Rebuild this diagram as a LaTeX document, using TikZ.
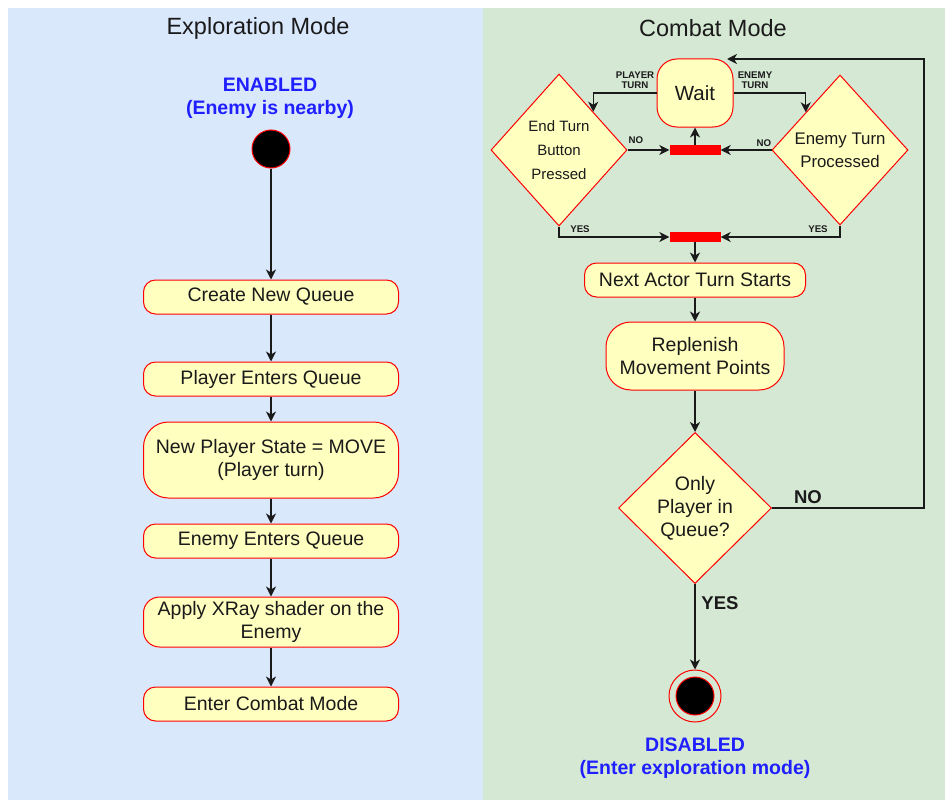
\documentclass[tikz,border=0pt]{standalone}
\usepackage{fontspec}
\setmainfont{Liberation Sans}
\usetikzlibrary{shapes.geometric,arrows.meta,calc}
\definecolor{bluebg}{HTML}{DAE8FC}
\definecolor{greenbg}{HTML}{D5E8D4}
\definecolor{nodefill}{HTML}{FFFFC0}
\definecolor{nodeline}{HTML}{FF0000}
\definecolor{labblue}{HTML}{1F1FFF}
\definecolor{ink}{HTML}{1A1A1A}
\begin{document}
\begin{tikzpicture}[x=1pt,y=-1pt,
  act/.style={draw=nodeline, fill=nodefill, line width=1pt, rounded corners=12pt, align=center, inner sep=0pt, font=\fontsize{19.5}{23}\selectfont, text=ink},
  dec/.style={diamond, draw=nodeline, fill=nodefill, line width=1pt, align=center, inner sep=0pt, text=ink},
  barbox/.style={rectangle, fill=red, draw=none, minimum width=51pt, minimum height=10pt, inner sep=0pt},
  arr/.style={-{Stealth[length=10pt,width=10pt,inset=3pt]}, line width=1.3pt, draw=ink},
  lab/.style={font=\bfseries\fontsize{9.7}{10.5}\selectfont, align=center, inner sep=0pt, text=ink},
  biglab/.style={font=\bfseries\fontsize{18.5}{20}\selectfont, inner sep=0pt, text=ink},
  modelab/.style={font=\bfseries\fontsize{19.5}{23}\selectfont, align=center, inner sep=0pt, text=labblue},
  title/.style={font=\fontsize{23.5}{26}\selectfont, inner sep=0pt, text=ink}
]
\useasboundingbox (0,0) rectangle (945,800);
\fill[white] (0,0) rectangle (945,800);
\fill[bluebg] (8,8) rectangle (483,800);
\fill[greenbg] (483,8) rectangle (945,800);

% titles
\node[title] (t1) at (258,28) {Exploration Mode};
\node[title] (t2) at (713,28) {Combat Mode};

% exploration
\node[modelab] (en) at (270,98) {ENABLED\\(Enemy is nearby)};
\node[circle, fill=black, draw=nodeline, line width=1pt, minimum size=38pt, inner sep=0pt] (start) at (271,149) {};
\node[act, minimum width=255pt, minimum height=34pt] (q1) at (271,297) {Create New Queue};
\node[act, minimum width=255pt, minimum height=34pt] (q2) at (271,379) {Player Enters Queue};
\node[act, minimum width=255pt, minimum height=76pt, rounded corners=25pt] (q3) at (271,460) {New Player State = MOVE\\(Player turn)};
\node[act, minimum width=255pt, minimum height=34pt] (q4) at (271,541) {Enemy Enters Queue};
\node[act, minimum width=255pt, minimum height=50pt, rounded corners=16pt] (q5) at (271,622) {Apply XRay shader on the\\Enemy};
\node[act, minimum width=255pt, minimum height=34pt] (q6) at (271,704) {Enter Combat Mode};

\draw[arr] (start) -- (q1);
\draw[arr] (q1) -- (q2);
\draw[arr] (q2) -- (q3);
\draw[arr] (q3) -- (q4);
\draw[arr] (q4) -- (q5);
\draw[arr] (q5) -- (q6);

% combat
\node[act, minimum width=76pt, minimum height=68pt, rounded corners=20pt, font=\fontsize{20.5}{22}\selectfont] (wait) at (695,93) {Wait};
\node[dec, minimum width=136pt, minimum height=152pt, font=\fontsize{15}{24}\selectfont] (endt) at (559,150) {End Turn\\Button\\Pressed};
\node[dec, minimum width=136pt, minimum height=150pt, font=\fontsize{16.8}{23}\selectfont] (enemt) at (840,150) {Enemy Turn\\Processed};
\node[barbox] (bar1) at (695,150) {};
\node[barbox] (bar2) at (695,237) {};
\node[act, minimum width=221pt, minimum height=34pt] (next) at (695,280) {Next Actor Turn Starts};
\node[act, minimum width=178pt, minimum height=68pt, rounded corners=25pt] (rep) at (695,356) {Replenish\\Movement Points};
\node[dec, minimum width=153pt, minimum height=151pt, font=\fontsize{19.5}{23}\selectfont] (only) at (695,508) {Only\\Player in\\Queue?};
\node[circle, draw=nodeline, line width=1pt, minimum size=52pt, inner sep=0pt] (endo) at (695,696) {};
\node[circle, fill=black, draw=nodeline, line width=1pt, minimum size=38pt, inner sep=0pt] (endi) at (695,696) {};
\node[modelab] (dis) at (695,758) {DISABLED\\(Enter exploration mode)};

\coordinate (loopc) at (924,59);
\coordinate (waittip) at (727,59);

\draw[arr] (wait.west) -| ($(endt.north)!0.5!(endt.east)$);
\draw[arr] (wait.east) -| ($(enemt.north)!0.5!(enemt.west)$);
\draw[arr] (endt.east) -- (bar1.west);
\draw[arr] (enemt.west) -- (bar1.east);
\draw[arr] (bar1.north) -- (wait.south);
\draw[arr] (endt.south) |- (bar2.west);
\draw[arr] (enemt.south) |- (bar2.east);
\draw[arr] (bar2) -- (next);
\draw[arr] (next) -- (rep);
\draw[arr] (rep) -- (only);
\draw[arr] (only.east) -| (loopc) -- (waittip);
\draw[arr] (only.south) -- (endo.north);

% labels
\node[lab] (lpt) at (635,80) {PLAYER\\TURN};
\node[lab] (let) at (755,80) {ENEMY\\TURN};
\node[lab] (lno1) at (636,140) {NO};
\node[lab] (lno2) at (764,143) {NO};
\node[lab] (lyes1) at (580,229) {YES};
\node[lab] (lyes2) at (818,229) {YES};
\node[biglab] (lno3) at (808,497) {NO};
\node[biglab] (lyes3) at (720,603) {YES};
\end{tikzpicture}
\end{document}
